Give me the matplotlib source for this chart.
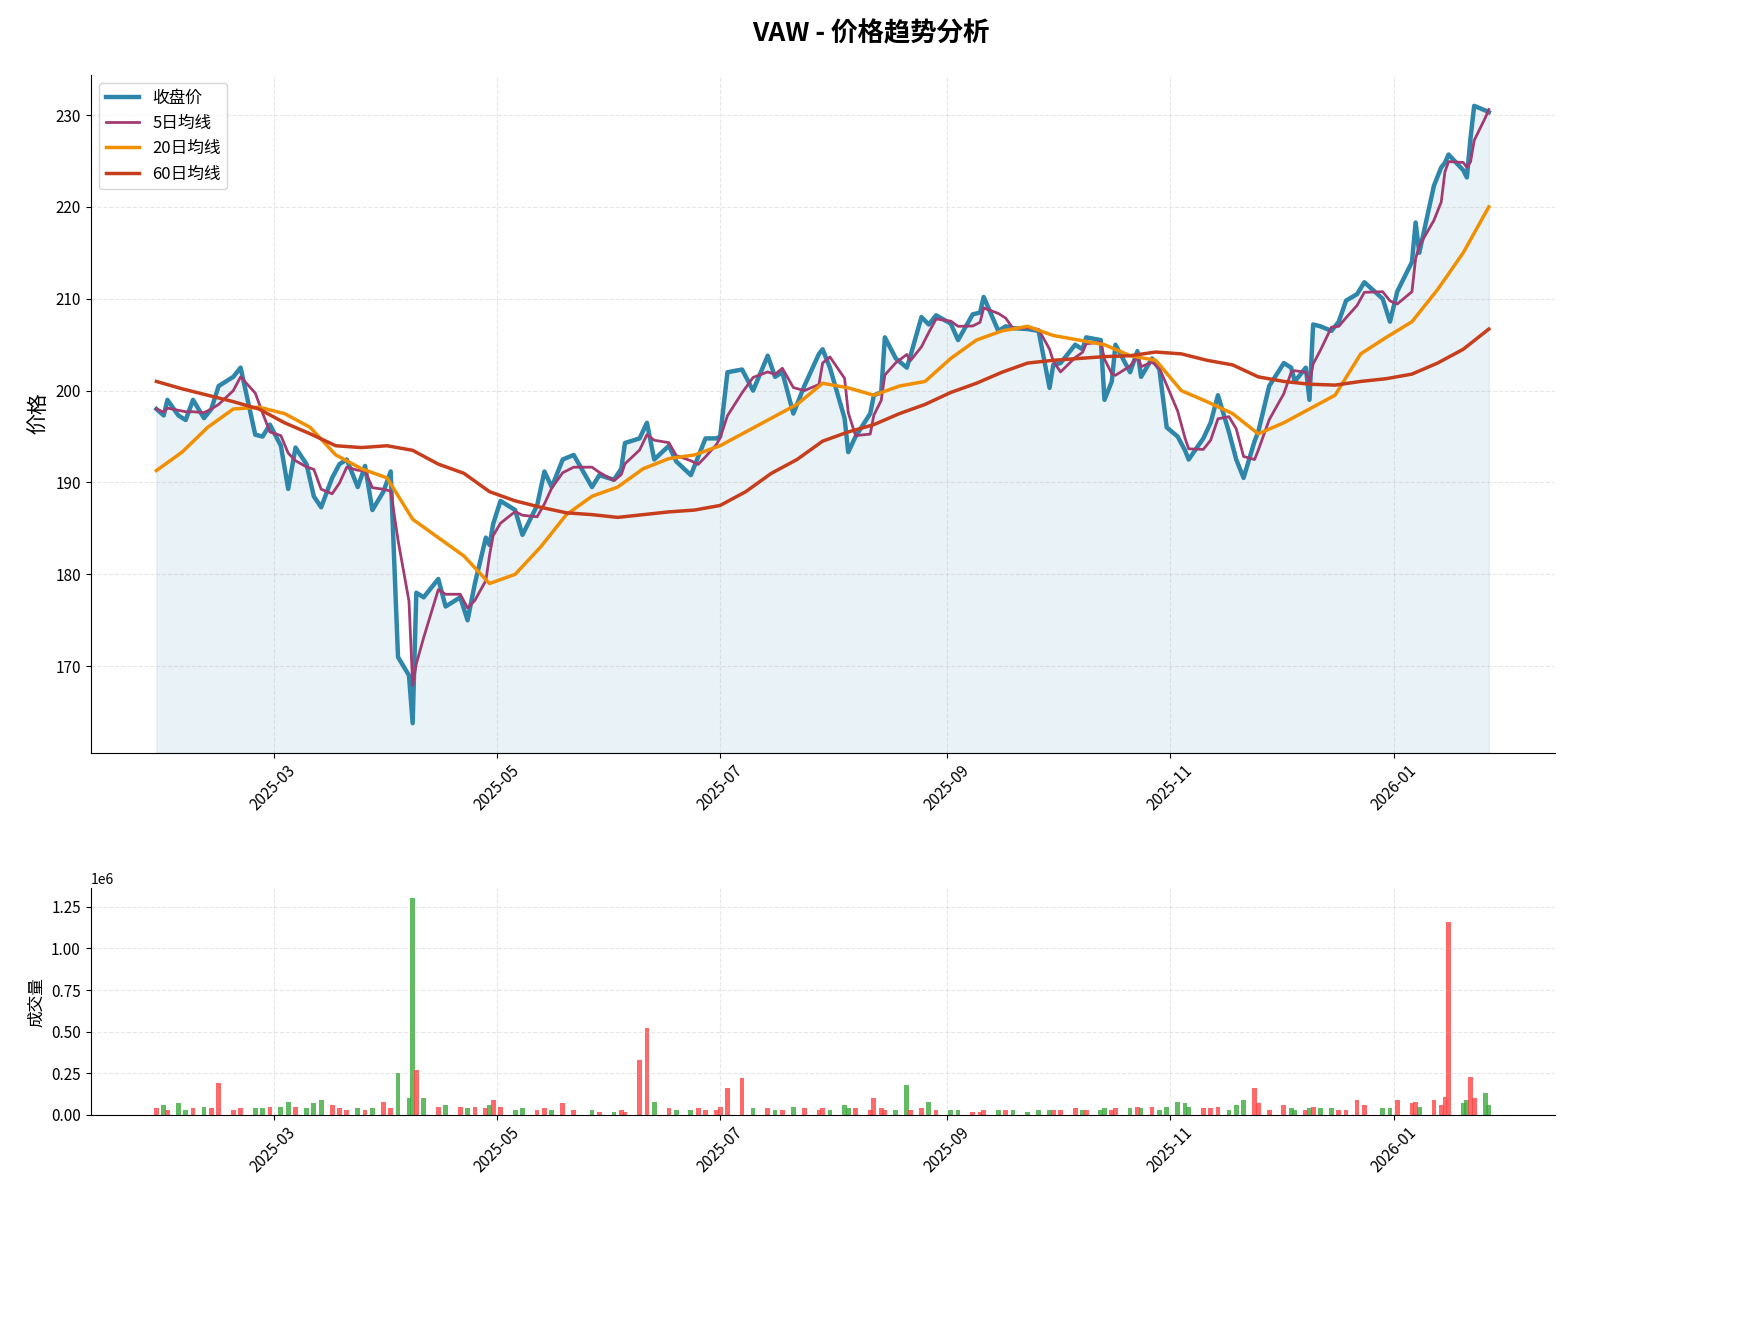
import matplotlib
matplotlib.use("Agg")
import matplotlib.pyplot as plt
import matplotlib.dates as mdates
from matplotlib import font_manager
from matplotlib.ticker import MultipleLocator
import pandas as pd
import numpy as np

# pick whichever CJK font is actually installed
names = {f.name for f in font_manager.fontManager.ttflist}
cjk = [n for n in ["Noto Sans CJK SC", "Noto Sans CJK JP", "Noto Sans CJK TC", "Noto Sans CJK KR"] if n in names]
if not cjk:
    for f in font_manager.findSystemFonts():
        if "CJK" in f:
            font_manager.fontManager.addfont(f)
    names = {f.name for f in font_manager.fontManager.ttflist}
    cjk = [n for n in names if "CJK" in n]
plt.rcParams["font.family"] = cjk + ["DejaVu Sans"]
plt.rcParams["axes.unicode_minus"] = False

# ---- data (roughly every other trading day) ----
dates = [
    "2025-01-28", "2025-01-30", "2025-01-31", "2025-02-03", "2025-02-05", "2025-02-07", "2025-02-10",
    "2025-02-12", "2025-02-14", "2025-02-18", "2025-02-20", "2025-02-24", "2025-02-26", "2025-02-28",
    "2025-03-03", "2025-03-05", "2025-03-07", "2025-03-10", "2025-03-12", "2025-03-14", "2025-03-17",
    "2025-03-19", "2025-03-21", "2025-03-24", "2025-03-26", "2025-03-28", "2025-03-31",
    "2025-04-02", "2025-04-04", "2025-04-07", "2025-04-08", "2025-04-09", "2025-04-11", "2025-04-15",
    "2025-04-17", "2025-04-21", "2025-04-23", "2025-04-25", "2025-04-28", "2025-04-29", "2025-04-30",
    "2025-05-02", "2025-05-06", "2025-05-08", "2025-05-12", "2025-05-14", "2025-05-16", "2025-05-19",
    "2025-05-22", "2025-05-27", "2025-05-29",
    "2025-06-02", "2025-06-04", "2025-06-05", "2025-06-09", "2025-06-11", "2025-06-13", "2025-06-17",
    "2025-06-19", "2025-06-23", "2025-06-25", "2025-06-27", "2025-06-30",
    "2025-07-01", "2025-07-03", "2025-07-07", "2025-07-10", "2025-07-14", "2025-07-16", "2025-07-18",
    "2025-07-21", "2025-07-24", "2025-07-28", "2025-07-29", "2025-07-31",
    "2025-08-04", "2025-08-05", "2025-08-07", "2025-08-11", "2025-08-12", "2025-08-14", "2025-08-15",
    "2025-08-18", "2025-08-21", "2025-08-22", "2025-08-25", "2025-08-27", "2025-08-29",
    "2025-09-02", "2025-09-04", "2025-09-08", "2025-09-10", "2025-09-11", "2025-09-15", "2025-09-17",
    "2025-09-19", "2025-09-23", "2025-09-26", "2025-09-29", "2025-09-30",
    "2025-10-02", "2025-10-06", "2025-10-08", "2025-10-09", "2025-10-13", "2025-10-14", "2025-10-16",
    "2025-10-17", "2025-10-21", "2025-10-23", "2025-10-24", "2025-10-27", "2025-10-29", "2025-10-31",
    "2025-11-03", "2025-11-05", "2025-11-06", "2025-11-10", "2025-11-12", "2025-11-14", "2025-11-17",
    "2025-11-19", "2025-11-21", "2025-11-24", "2025-11-25", "2025-11-28",
    "2025-12-02", "2025-12-04", "2025-12-05", "2025-12-08", "2025-12-09", "2025-12-10", "2025-12-12",
    "2025-12-15", "2025-12-17", "2025-12-19", "2025-12-22", "2025-12-24", "2025-12-29", "2025-12-31",
    "2026-01-02", "2026-01-06", "2026-01-07", "2026-01-08", "2026-01-12", "2026-01-14", "2026-01-15",
    "2026-01-16", "2026-01-20", "2026-01-21", "2026-01-22", "2026-01-23", "2026-01-26", "2026-01-27",
]
close = [
    198, 197.3, 199, 197.3, 196.8, 199, 197, 198, 200.5, 201.5, 202.5, 195.2, 195, 196.3,
    194, 189.3, 193.8, 192, 188.5, 187.3, 190.5, 192, 192.5, 189.5, 191.8, 187, 189,
    191.2, 171, 169, 163.8, 178, 177.5, 179.5, 176.5, 177.5, 175, 179, 184, 183.2, 185.5,
    188, 187, 184.3, 187.5, 191.2, 189.5, 192.5, 193, 189.5, 190.8,
    190.3, 191.5, 194.3, 194.8, 196.5, 192.5, 194, 192.3, 190.8, 192.8, 194.8, 194.8,
    195, 202, 202.3, 200, 203.8, 201.5, 202, 197.5, 200.5, 204, 204.5, 202.5,
    197, 193.3, 195, 197.5, 199.5, 199.8, 205.8, 203.5, 202.5, 203.8, 208, 207.2, 208.2,
    207.3, 205.5, 208.3, 208.5, 210.2, 206.5, 207, 206.8, 206.7, 206.5, 200.3, 202.8,
    203, 205, 204.5, 205.8, 205.5, 199, 201, 205, 202, 204.3, 201.5, 203.5, 202.3, 196,
    195, 193.5, 192.5, 194.8, 196.5, 199.5, 195.5, 192.5, 190.5, 194.5, 195.5, 200.5,
    203, 202.5, 201, 202.5, 199, 207.2, 207, 206.5, 207.5, 209.8, 210.5, 211.8, 210, 207.5,
    210.8, 214, 218.3, 215, 222.3, 224.3, 224.8, 225.7, 224, 223.2, 227.5, 231, 230.5, 230.3,
]
volume_m = [
    .04, .06, .03, .07, .03, .04, .05, .04, .19, .03, .04, .04, .04, .05,
    .05, .08, .05, .04, .07, .09, .06, .04, .03, .04, .03, .04, .08,
    .04, .25, .10, 1.30, .27, .10, .05, .06, .05, .04, .05, .04, .06, .09,
    .05, .03, .04, .03, .04, .03, .07, .03, .03, .02,
    .02, .03, .02, .33, .52, .08, .04, .03, .03, .04, .03, .03,
    .05, .16, .22, .04, .04, .03, .03, .05, .04, .03, .04, .03,
    .06, .04, .04, .03, .10, .04, .03, .03, .18, .03, .04, .08, .03,
    .03, .03, .02, .02, .03, .03, .03, .03, .02, .03, .03, .03,
    .03, .04, .03, .03, .03, .04, .03, .04, .04, .05, .04, .05, .03, .05,
    .08, .07, .05, .04, .04, .05, .03, .06, .09, .16, .07, .03,
    .06, .04, .03, .03, .04, .05, .04, .04, .03, .03, .09, .06, .04, .04,
    .09, .07, .08, .05, .09, .06, .11, 1.16, .07, .09, .23, .10, .13, .06,
]

# weekly readings of the longer moving averages
ma_weeks = pd.date_range("2025-01-28", "2026-01-27", freq="7D")
ma20 = [191.3, 193.3, 196, 198, 198.2, 197.5, 196, 193, 191.5, 190.5, 186, 184, 182, 179,
        180, 183, 186.5, 188.5, 189.5, 191.5, 192.6, 193, 194, 195.5, 197, 198.5, 200.8,
        200.3, 199.5, 200.5, 201, 203.5, 205.5, 206.5, 207, 206, 205.5, 205, 203.8, 203.3,
        200, 198.8, 197.5, 195.3, 196.5, 198, 199.5, 204, 205.8, 207.5, 211, 215, 220]
ma60 = [201, 200.2, 199.5, 198.8, 198, 196.5, 195.3, 194, 193.8, 194, 193.5, 192, 191, 189,
        188, 187.3, 186.7, 186.5, 186.2, 186.5, 186.8, 187, 187.5, 189, 191, 192.5, 194.5,
        195.5, 196.3, 197.5, 198.5, 199.8, 200.8, 202, 203, 203.3, 203.5, 203.7, 203.8, 204.2,
        204, 203.3, 202.8, 201.5, 201, 200.7, 200.6, 201, 201.3, 201.8, 203, 204.5, 206.7]

# ---- derived ----
dt = pd.to_datetime(dates)
close_s = pd.Series(close, index=dt)
ma5 = close_s.rolling(3, min_periods=1).mean()
volume = np.array(volume_m) * 1e6
up = close_s.diff().fillna(0).values >= 0
bar_colors = np.where(up, "#FF4444", "#3BAA3B")

fig = plt.figure(figsize=(17.41, 13.32), dpi=100)
ax1 = fig.add_axes([0.052, 0.435, 0.841, 0.509])
ax2 = fig.add_axes([0.052, 0.163, 0.841, 0.170])

ax1.plot(dt, close, color="#2E86AB", lw=3.2, label="收盘价")
ax1.plot(dt, ma5.values, color="#A23B72", lw=2, label="5日均线")
ax1.plot(ma_weeks, ma20, color="#F18F01", lw=2.5, label="20日均线")
ax1.plot(ma_weeks, ma60, color="#C73E1D", lw=2.5, label="60日均线")
ax1.set_ylim(160.6, 234.4)
ax1.fill_between(dt, close, 160.6, color="#2E86AB", alpha=0.1)
ax1.set_ylabel("价格", fontsize=15)
ax1.legend(loc="upper left", fontsize=12)

ax2.bar(dt, volume, width=1.3, color=bar_colors, alpha=0.8)
ax2.set_ylabel("成交量", fontsize=12)
ax2.set_ylim(0, 1.36e6)
ax2.yaxis.set_major_locator(MultipleLocator(250000))

for ax in (ax1, ax2):
    ax.set_xlim(pd.Timestamp("2025-01-10"), pd.Timestamp("2026-02-14"))
    ax.xaxis.set_major_locator(mdates.MonthLocator(bymonth=[1, 3, 5, 7, 9, 11]))
    ax.xaxis.set_major_formatter(mdates.DateFormatter("%Y-%m"))
    ax.grid(True, linestyle="--", alpha=0.3)
    ax.spines["top"].set_visible(False)
    ax.spines["right"].set_visible(False)
    ax.tick_params(labelsize=11)
    plt.setp(ax.get_xticklabels(), rotation=45)

fig.suptitle("VAW - 价格趋势分析", fontsize=19, fontweight="bold", y=0.985)
fig.savefig("out.png", dpi=100)
